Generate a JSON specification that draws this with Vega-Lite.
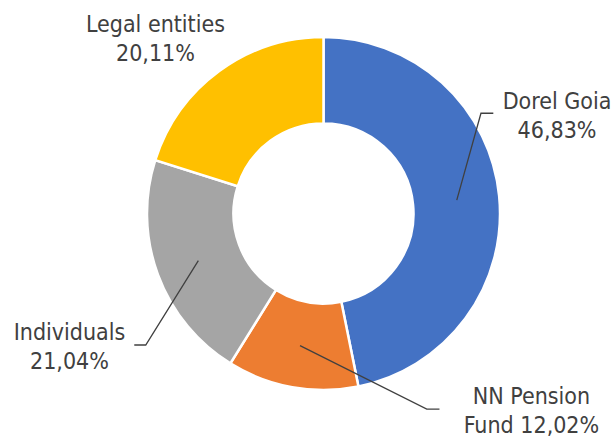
{
  "$schema": "https://vega.github.io/schema/vega-lite/v6.json",
  "autosize": "none",
  "width": 585,
  "height": 427,
  "padding": {"left": 31, "right": 0, "top": 0, "bottom": 9},
  "background": "white",
  "config": {"view": {"stroke": null}},
  "datasets": {
    "slices": [
      {"name": "Dorel Goia", "value": 46.83, "ord": 1},
      {"name": "NN Pension Fund", "value": 12.02, "ord": 2},
      {"name": "Individuals", "value": 21.04, "ord": 3},
      {"name": "Legal entities", "value": 20.11, "ord": 4}
    ],
    "leaders": [
      {"id": "Dorel Goia", "seq": 1, "x": 75.5, "y": 7.6},
      {"id": "Dorel Goia", "seq": 2, "x": 89.2, "y": 56.8},
      {"id": "Dorel Goia", "seq": 3, "x": 96.2, "y": 56.8},
      {"id": "Individuals", "seq": 1, "x": -70.9, "y": -26.7},
      {"id": "Individuals", "seq": 2, "x": -100.7, "y": -74.5},
      {"id": "Individuals", "seq": 3, "x": -107.2, "y": -74.5},
      {"id": "NN Pension Fund", "seq": 1, "x": -13.3, "y": -74.9},
      {"id": "NN Pension Fund", "seq": 2, "x": 58.5, "y": -110.8},
      {"id": "NN Pension Fund", "seq": 3, "x": 65.7, "y": -110.8}
    ],
    "labels": [
      {"lines": ["Dorel Goia", "46,83%"], "x": 132.3, "y": 59.0},
      {"lines": ["Individuals", "21,04%"], "x": -143.9, "y": -71.7},
      {"lines": ["NN Pension", "Fund 12,02%"], "x": 117.8, "y": -108.1},
      {"lines": ["Legal entities", "20,11%"], "x": -95.2, "y": 103.0}
    ]
  },
  "layer": [
    {
      "data": {"name": "slices"},
      "mark": {"type": "arc", "outerRadius": 176.5, "innerRadius": 90, "stroke": "white", "strokeWidth": 2.5},
      "encoding": {
        "theta": {"field": "value", "type": "quantitative", "stack": true},
        "order": {"field": "ord", "type": "quantitative"},
        "color": {
          "field": "name", "type": "nominal", "legend": null,
          "scale": {
            "domain": ["Dorel Goia", "NN Pension Fund", "Individuals", "Legal entities"],
            "range": ["#4472C4", "#ED7D31", "#A5A5A5", "#FFC000"]
          }
        }
      }
    },
    {
      "data": {"name": "leaders"},
      "mark": {"type": "line", "color": "#404040", "strokeWidth": 1.3},
      "encoding": {
        "x": {"field": "x", "type": "quantitative", "scale": {"domain": [-165.7, 165.7]}, "axis": null},
        "y": {"field": "y", "type": "quantitative", "scale": {"domain": [-120.96, 120.96]}, "axis": null},
        "detail": {"field": "id"},
        "order": {"field": "seq", "type": "quantitative"}
      }
    },
    {
      "data": {"name": "labels"},
      "mark": {"type": "text", "align": "center", "baseline": "alphabetic", "font": "DejaVu Sans Condensed", "fontSize": 23, "lineHeight": 29, "color": "#404040"},
      "encoding": {
        "x": {"field": "x", "type": "quantitative", "scale": {"domain": [-165.7, 165.7]}, "axis": null},
        "y": {"field": "y", "type": "quantitative", "scale": {"domain": [-120.96, 120.96]}, "axis": null},
        "text": {"field": "lines"}
      }
    }
  ]
}
